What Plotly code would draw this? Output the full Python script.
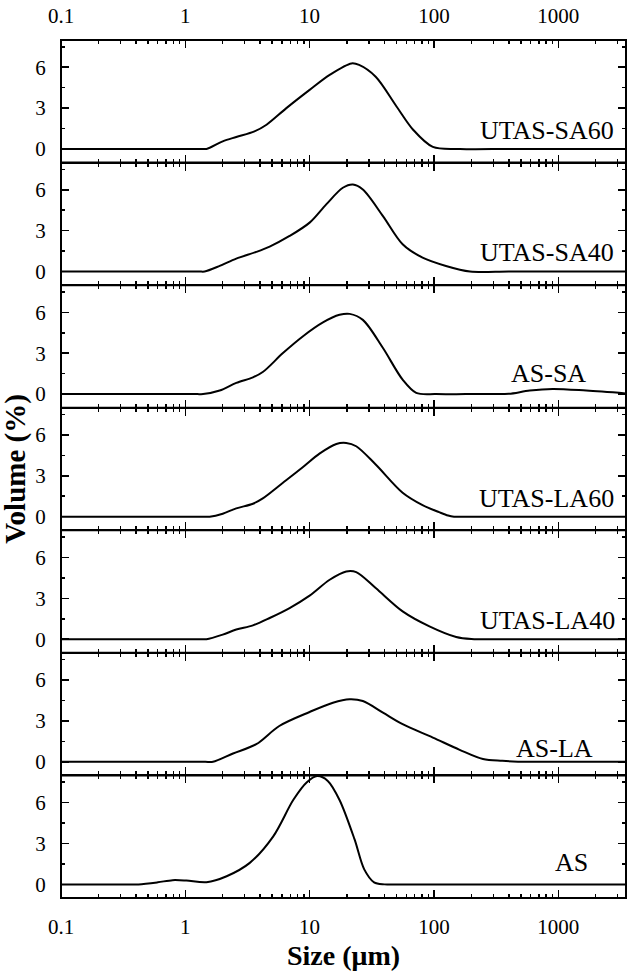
import plotly.graph_objects as go
from plotly.subplots import make_subplots

# ---- data ----
names = ["UTAS-SA60", "UTAS-SA40", "AS-SA", "UTAS-LA60", "UTAS-LA40", "AS-LA", "AS"]

x_sa60 = [0.1, 0.3, 0.7, 1.1, 1.35, 1.48, 2.0, 2.57, 3.6, 4.5, 6.5, 10, 14.5, 21.7, 25, 34, 50, 68, 98, 162, 400, 1200, 3500]
y_sa60 = [0, 0, 0, 0, 0, 0, 0.56, 0.88, 1.29, 1.78, 3.0, 4.34, 5.44, 6.28, 6.17, 5.3, 3.12, 1.41, 0.15, 0, 0, 0, 0]

x_sa40 = [0.1, 0.3, 0.7, 1.1, 1.3, 1.43, 1.89, 2.57, 3.72, 4.77, 6.9, 10, 13.6, 18.5, 22.3, 26.8, 38.9, 56, 81, 125, 195, 400, 1200, 3500]
y_sa40 = [0, 0, 0, 0, 0, 0, 0.41, 0.95, 1.44, 1.83, 2.61, 3.59, 4.93, 6.15, 6.39, 6.02, 4.07, 2.0, 1.02, 0.41, 0, 0, 0, 0]

x_assa = [0.1, 0.3, 0.7, 1.05, 1.25, 1.39, 1.89, 2.57, 3.5, 4.2, 6.1, 8.8, 12.8, 17.4, 21, 26.8, 38.9, 56, 72, 104, 180, 300, 400, 590, 900, 1680, 3500]
y_assa = [0, 0, 0, 0, 0, 0, 0.26, 0.82, 1.23, 1.62, 3.01, 4.23, 5.26, 5.82, 5.89, 5.45, 3.38, 1.06, 0.09, 0, 0, 0, 0.02, 0.26, 0.38, 0.26, 0.05]

x_la60 = [0.1, 0.3, 0.7, 1.1, 1.4, 1.57, 2.0, 2.57, 3.5, 4.2, 6.1, 8.8, 12, 16.4, 19.7, 23.7, 34, 56, 81, 110, 130, 145, 170, 250, 800, 3500]
y_la60 = [0, 0, 0, 0, 0, 0, 0.22, 0.61, 0.95, 1.34, 2.49, 3.63, 4.63, 5.34, 5.41, 5.17, 3.83, 1.76, 0.85, 0.33, 0.08, 0, 0, 0, 0, 0]

x_la40 = [0.1, 0.3, 0.7, 1.1, 1.35, 1.48, 2.0, 2.57, 3.5, 4.77, 6.9, 10, 14.5, 19.7, 23.7, 34, 56, 92, 151, 200, 400, 1200, 3500]
y_la40 = [0, 0, 0, 0, 0, 0, 0.34, 0.71, 1.02, 1.56, 2.29, 3.2, 4.37, 4.98, 4.93, 3.76, 2.05, 0.95, 0.17, 0.02, 0, 0, 0]

x_asla = [0.1, 0.3, 0.7, 1.1, 1.45, 1.67, 2.42, 3.72, 5.7, 10, 15.4, 21, 26.8, 38.9, 56, 98, 161, 248, 355, 590, 1000, 3500]
y_asla = [0, 0, 0, 0, 0, 0, 0.61, 1.29, 2.63, 3.66, 4.34, 4.59, 4.46, 3.61, 2.76, 1.78, 0.88, 0.2, 0.07, 0, 0, 0]

x_as = [0.1, 0.2, 0.32, 0.42, 0.6, 0.79, 1.02, 1.48, 2.15, 3.3, 5.1, 7.4, 9.5, 11.5, 14, 17.4, 23, 27.5, 33, 40, 60, 150, 600, 3500]
y_as = [0, 0, 0, 0, 0.15, 0.31, 0.28, 0.16, 0.6, 1.58, 3.53, 6.21, 7.5, 7.95, 7.6, 6.2, 3.3, 1.1, 0.15, 0, 0, 0, 0, 0]

series_x = [x_sa60, x_sa40, x_assa, x_la60, x_la40, x_asla, x_as]
series_y = [y_sa60, y_sa40, y_assa, y_la60, y_la40, y_asla, y_as]

label_x = [0.982, 0.982, 0.933, 0.982, 0.984, 0.945, 0.936]
label_y = [1.35, 1.38, 1.5, 1.3, 1.36, 1.0, 1.6]

x_major = [0.1, 1, 10, 100, 1000]
x_major_text = ["0.1", "1", "10", "100", "1000"]
x_minor = [m * d for d in [0.1, 1, 10, 100, 1000] for m in range(2, 10) if m * d <= 3500]
y_major = [0, 3, 6]
y_minor = [1.5, 4.5, 7.5]

FONT = "Liberation Serif, Times New Roman, serif"
N = 7

fig = make_subplots(rows=N, cols=1, vertical_spacing=0)

for i in range(N):
    r = i + 1
    fig.add_trace(go.Scatter(x=series_x[i], y=series_y[i], mode="lines",
                             line=dict(color="black", width=2, shape="spline", smoothing=0.9),
                             showlegend=False, hoverinfo="skip"), row=r, col=1)
    fig.update_xaxes(type="log", range=[-1, 3.545], showline=True, linecolor="black", linewidth=1,
                     mirror="allticks", ticks="inside", ticklen=8, tickwidth=1.5, tickcolor="black",
                     tickmode="array", tickvals=x_major, ticktext=x_major_text,
                     minor=dict(tickmode="array", tickvals=x_minor, ticks="inside", ticklen=4,
                                tickwidth=1.5, tickcolor="black", showgrid=False),
                     showgrid=False, zeroline=False,
                     showticklabels=(r == 1 or r == N),
                     side=("top" if r == 1 else "bottom"),
                     ticklabelstandoff=(8 if r == 1 else 10),
                     tickfont=dict(family=FONT, size=21, color="black"),
                     row=r, col=1)
    fig.update_yaxes(range=[-1, 8], showline=True, linecolor="black", linewidth=1,
                     mirror="allticks", ticks="inside", ticklen=8, tickwidth=1.5, tickcolor="black",
                     tickmode="array", tickvals=y_major,
                     minor=dict(tickmode="array", tickvals=y_minor, ticks="inside", ticklen=4,
                                tickwidth=1.5, tickcolor="black", showgrid=False),
                     showgrid=False, zeroline=False,
                     ticklabelstandoff=10,
                     tickfont=dict(family=FONT, size=21, color="black"),
                     row=r, col=1)
    xa = "x domain" if r == 1 else f"x{r} domain"
    ya = "y" if r == 1 else f"y{r}"
    fig.add_annotation(text=names[i], xref=xa, yref=ya, x=label_x[i], y=label_y[i],
                       xanchor="right", yanchor="middle", showarrow=False,
                       font=dict(family=FONT, size=26, color="black"))

# panel frames
fig.add_shape(type="rect", xref="paper", yref="paper", x0=0, x1=1, y0=0, y1=1,
              line=dict(color="black", width=2))
for k in range(1, N):
    fig.add_shape(type="line", xref="paper", yref="paper", x0=0, x1=1, y0=k / N, y1=k / N,
                  line=dict(color="black", width=2))

fig.add_annotation(text="<b>Volume (%)</b>", xref="paper", yref="paper", x=-0.082, y=0.5,
                   xanchor="center", yanchor="middle", textangle=-90, showarrow=False,
                   font=dict(family=FONT, size=29, color="black"))
fig.add_annotation(text="<b>Size (μm)</b>", xref="paper", yref="paper", x=0.5, y=-0.067,
                   xanchor="center", yanchor="middle", showarrow=False,
                   font=dict(family=FONT, size=28, color="black"))

fig.update_layout(width=628, height=975, margin=dict(l=61, r=2, t=40, b=77),
                  paper_bgcolor="white", plot_bgcolor="white")

# remove the default 8px page margin so the figure fills the window exactly
fig.write_html("out.html",
               config={"displayModeBar": False, "staticPlot": True},
               post_script="document.body.style.margin='0';document.body.style.overflow='hidden';")
